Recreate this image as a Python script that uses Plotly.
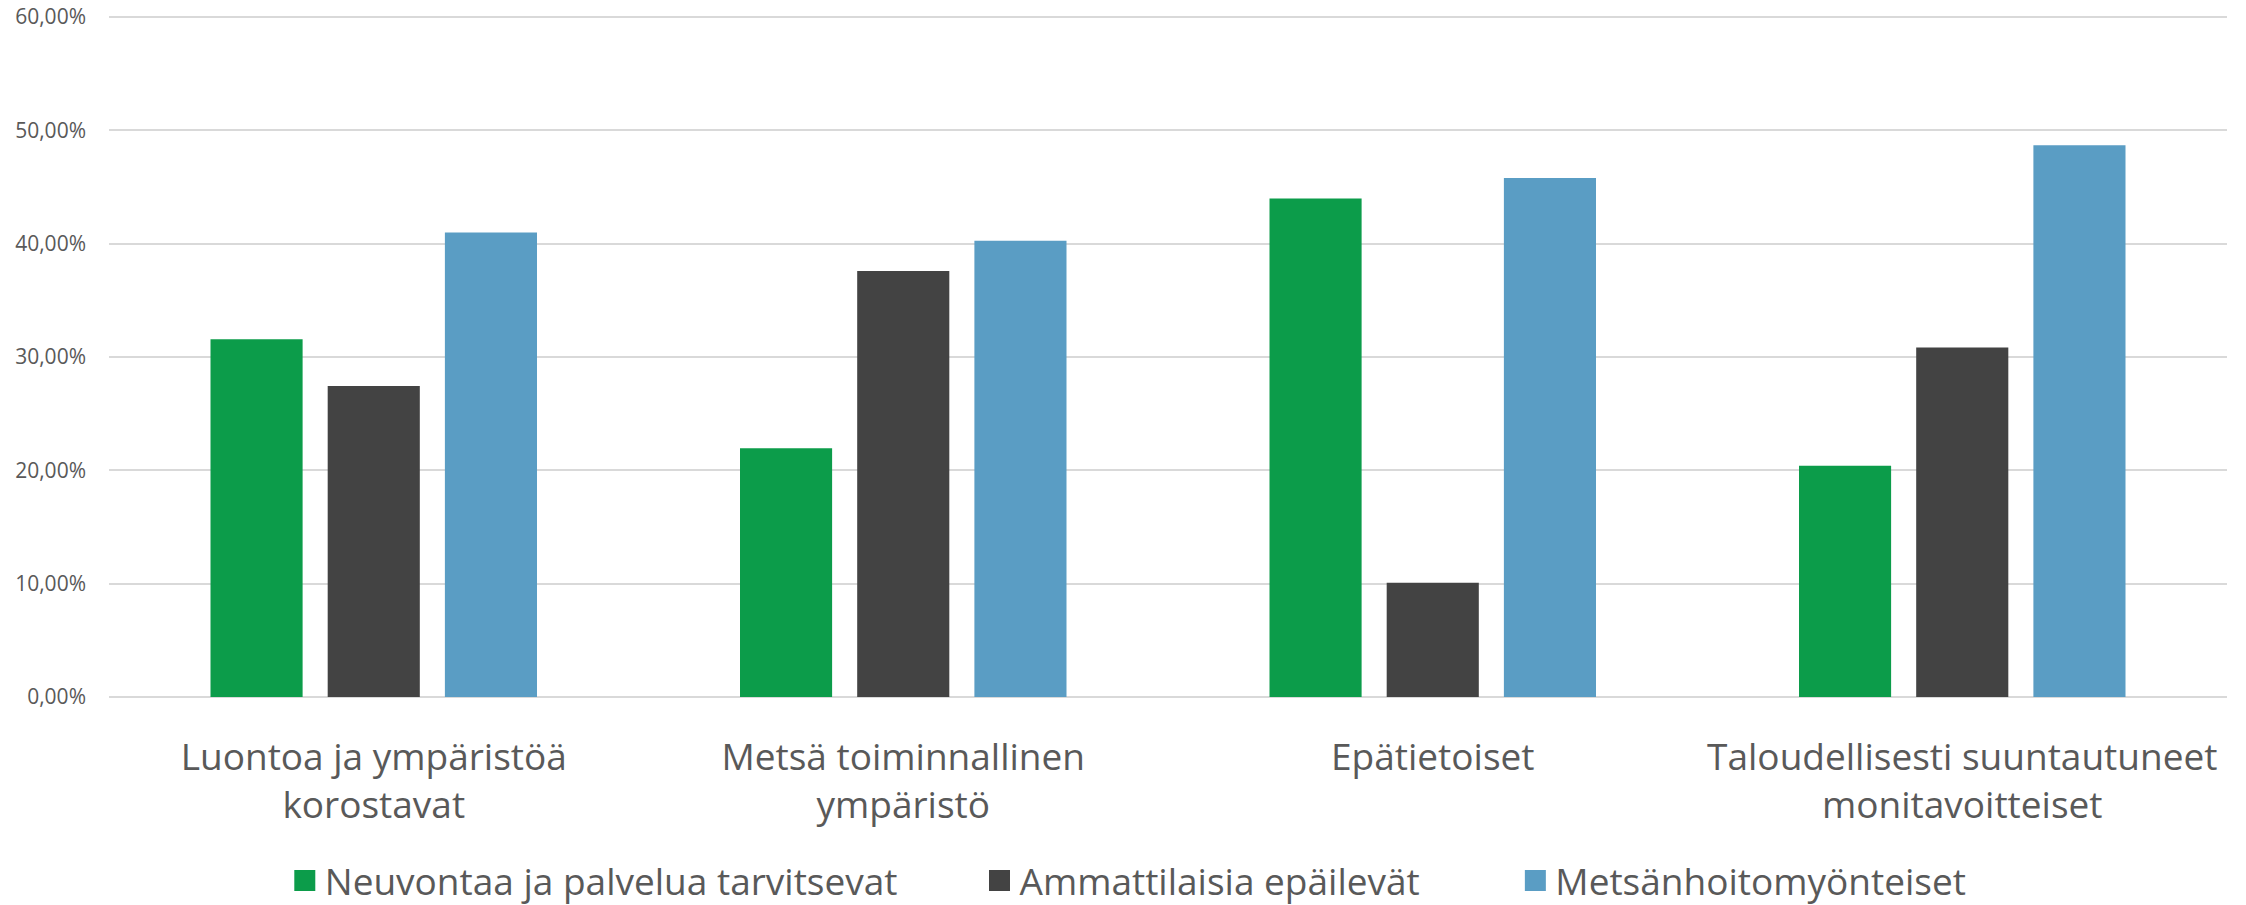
import plotly.graph_objects as go

categories = [
    "Luontoa ja ympäristöä<br>korostavat",
    "Metsä toiminnallinen<br>ympäristö",
    "Epätietoiset",
    "Taloudellisesti suuntautuneet<br>monitavoitteiset",
]
series_names = [
    "Neuvontaa ja palvelua tarvitsevat",
    "Ammattilaisia epäilevät",
    "Metsänhoitomyönteiset",
]
neuvontaa = [0.3157, 0.2195, 0.4400, 0.2040]
ammattilaisia = [0.2745, 0.3760, 0.1008, 0.3085]
metsanhoito = [0.4100, 0.4026, 0.4580, 0.4870]
y_ticks = [0, 0.1, 0.2, 0.3, 0.4, 0.5, 0.6]

colors = ["#0C9C4A", "#434343", "#5A9DC4"]
series_values = [neuvontaa, ammattilaisia, metsanhoito]
legend_ids = ["legend", "legend2", "legend3"]
legend_x = [0.083, 0.411, 0.664]

fig = go.Figure()
for name, vals, col in zip(series_names, series_values, colors):
    fig.add_trace(go.Bar(x=categories, y=vals, name=name, marker_color=col,
                         marker_line_width=0, showlegend=False))
for name, col, lid in zip(series_names, colors, legend_ids):
    fig.add_trace(go.Scatter(x=[None], y=[None], mode="markers", name=name,
                             legend=lid,
                             marker=dict(symbol="square", size=16, color=col,
                                         line=dict(width=5, color=col))))

legend_common = dict(orientation="h", xanchor="left", y=-0.27, yanchor="middle",
                     font=dict(size=37, color="#595959"), itemwidth=30,
                     bgcolor="rgba(0,0,0,0)")
layout_legends = {lid: dict(x=lx, **legend_common) for lid, lx in zip(legend_ids, legend_x)}

fig.update_layout(
    width=2238, height=912, autosize=False,
    margin=dict(l=101, r=19, t=8.4, b=219.3),
    paper_bgcolor="white", plot_bgcolor="white",
    barmode="group", bargap=0.336, bargroupgap=0.214,
    separators=", ",
    font=dict(family="Open Sans", color="#595959"),
    showlegend=True,
    **layout_legends,
)
fig.update_yaxes(range=[0, 0.601], tickvals=y_ticks, tickformat=".2%",
                 showgrid=True, gridcolor="#D9D9D9", gridwidth=2,
                 zeroline=True, zerolinecolor="#D9D9D9", zerolinewidth=2,
                 showline=False, ticks="", ticklabelstandoff=22, automargin=False,
                 ticklabeloverflow="allow",
                 tickfont=dict(size=21, color="#595959"))
fig.update_xaxes(showline=False, ticks="", ticklabelstandoff=35, automargin=False,
                 tickfont=dict(size=37, color="#595959"), showgrid=False)

fig.write_html("out.html", config={"displayModeBar": False})
